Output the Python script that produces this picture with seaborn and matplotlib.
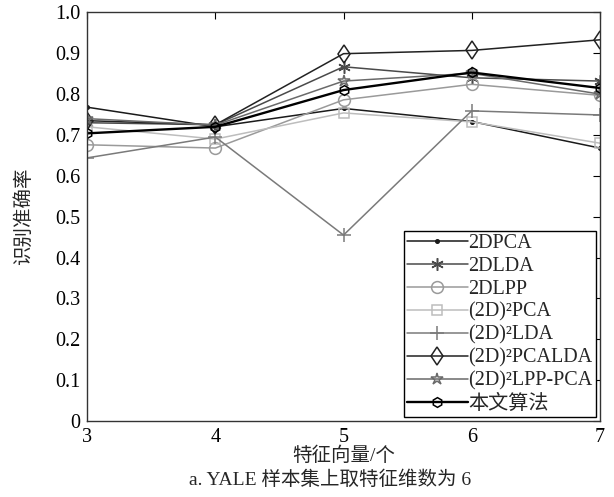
import numpy as np
import pandas as pd
import matplotlib
matplotlib.use("Agg")
import matplotlib.pyplot as plt
import seaborn as sns

# Number of feature vectors
feature_counts = [3, 4, 5, 6, 7]

# Recognition accuracy of each method
acc_2dpca = [0.768, 0.720, 0.765, 0.733, 0.668]
acc_2dlda = [0.730, 0.725, 0.867, 0.840, 0.832]
acc_2dlpp = [0.676, 0.668, 0.786, 0.824, 0.797]
acc_2d2pca = [0.720, 0.690, 0.754, 0.732, 0.680]
acc_2d2lda = [0.644, 0.695, 0.455, 0.759, 0.749]
acc_2d2pcalda = [0.735, 0.725, 0.899, 0.907, 0.933]
acc_2d2lpppca = [0.740, 0.724, 0.832, 0.851, 0.800]
acc_ours = [0.704, 0.720, 0.810, 0.853, 0.815]

method_names = ["2DPCA", "2DLDA", "2DLPP", "(2D)²PCA", "(2D)²LDA",
                "(2D)²PCALDA", "(2D)²LPP-PCA", "本文算法"]
series = [acc_2dpca, acc_2dlda, acc_2dlpp, acc_2d2pca, acc_2d2lda,
          acc_2d2pcalda, acc_2d2lpppca, acc_ours]

y_ticks = [0, 0.1, 0.2, 0.3, 0.4, 0.5, 0.6, 0.7, 0.8, 0.9, 1.0]
y_tick_labels = ["0", "0.1", "0.2", "0.3", "0.4", "0.5", "0.6", "0.7", "0.8", "0.9", "1.0"]

df = pd.DataFrame({
    "特征向量": np.tile(feature_counts, len(method_names)),
    "识别准确率": np.concatenate(series),
    "方法": np.repeat(method_names, len(feature_counts)),
})

sns.set_theme(style="white")
plt.rcParams["font.family"] = ["Liberation Serif", "Noto Sans CJK SC"]
plt.rcParams["axes.unicode_minus"] = False

styles = {
    "2DPCA": dict(color="#1a1a1a", marker=".", ms=5, mfc="#1a1a1a", lw=1.1),
    "2DLDA": dict(color="#4a4a4a", marker=(6, 2, 0), ms=9, mfc="none", lw=1.1),
    "2DLPP": dict(color="#9a9a9a", marker="o", ms=8.5, mfc="none", lw=1.1),
    "(2D)²PCA": dict(color="#bdbdbd", marker="s", ms=7.5, mfc="none", lw=1.1),
    "(2D)²LDA": dict(color="#7a7a7a", marker="+", ms=10, mfc="none", lw=1.1),
    "(2D)²PCALDA": dict(color="#222222", marker="d", ms=9.5, mfc="none", lw=1.1),
    "(2D)²LPP-PCA": dict(color="#6a6a6a", marker="*", ms=9, mfc="none", lw=1.1),
    "本文算法": dict(color="#000000", marker="h", ms=7, mfc="none", lw=1.7),
}

fig = plt.figure(figsize=(6.14, 4.97), dpi=100)
ax = fig.add_axes([0.142, 0.153, 0.835, 0.822])

for name in method_names:
    st = styles[name]
    sub = df[df["方法"] == name]
    sns.lineplot(data=sub, x="特征向量", y="识别准确率", ax=ax, label=name,
                 color=st["color"], marker=st["marker"], markersize=st["ms"],
                 markerfacecolor=st["mfc"], markeredgecolor=st["color"],
                 markeredgewidth=1.1, linewidth=st["lw"], estimator=None)

ax.set_xlim(3, 7)
ax.set_ylim(0, 1.0)
ax.set_xticks(feature_counts)
ax.set_xticklabels([str(v) for v in feature_counts])
ax.set_yticks(y_ticks)
ax.set_yticklabels(y_tick_labels)
ax.tick_params(direction="in", length=5, width=0.8, top=True, right=True,
               labelsize=14.5, colors="black", pad=5)
for sp in ax.spines.values():
    sp.set_color("#333333")
    sp.set_linewidth(1.0)

ax.set_xlabel("特征向量/个", fontsize=14, labelpad=0)
ax.set_ylabel("识别准确率", fontsize=14, labelpad=16)

leg = ax.legend(loc="lower right", fontsize=14.5, frameon=True, fancybox=False,
                edgecolor="black", framealpha=1, handlelength=3.0,
                handletextpad=0.05, labelspacing=0.19, borderpad=0.15,
                borderaxespad=0.2)
leg.get_frame().set_linewidth(1.0)

fig.text(0.537, 0.035, "a. YALE 样本集上取特征维数为 6", ha="center", va="center",
         fontsize=14)

fig.savefig("out.png", dpi=100)
